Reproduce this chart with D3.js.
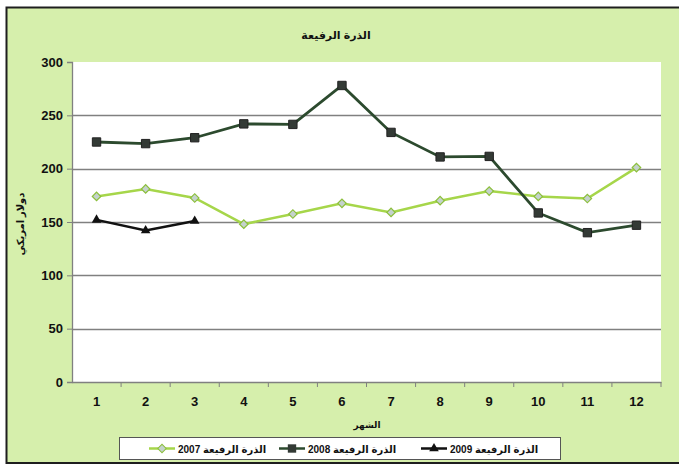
<!DOCTYPE html>
<html>
<head>
<meta charset="utf-8">
<script src="https://cdn.jsdelivr.net/npm/d3@7"></script>
<style>
  body { margin: 0; background: #fff; }
  text { font-family: "Liberation Sans", Arial, "DejaVu Sans", sans-serif; }
</style>
</head>
<body>
<div id="chart"></div>
<script>
// months on the x axis
var months = [1, 2, 3, 4, 5, 6, 7, 8, 9, 10, 11, 12];
// prices, US dollar
var sorghum_2007 = [174, 181, 172.5, 148, 157.5, 167.5, 159, 170, 179, 174, 172, 201];
var sorghum_2008 = [225, 223.5, 229, 242, 241.5, 278, 234, 211, 211.5, 158.5, 140, 147];
var sorghum_2009 = [152, 142, 151];
var y_ticks = [0, 50, 100, 150, 200, 250, 300];

var chart_title = "الذرة الرفيعة";
var y_title = "دولار امريكي";
var x_title = "الشهر";
var legend_names = ["الذرة الرفيعة 2007", "الذرة الرفيعة 2008", "الذرة الرفيعة 2009"];

var canvas_width = 679;
var canvas_height = 466;
var plot = {left: 72, right: 661, top: 62, bottom: 382};

var svg = d3.select("#chart")
    .append("svg")
    .attr("width", canvas_width)
    .attr("height", canvas_height);

// outer chart area
svg.append("rect")
  .attr("x", 6.5)
  .attr("y", 7.5)
  .attr("width", 700)
  .attr("height", 455.5)
  .attr("fill", "#d6efac")
  .attr("stroke", "#1e1e1e")
  .attr("stroke-width", 2);

// plot area
svg.append("rect")
  .attr("x", plot.left)
  .attr("y", plot.top)
  .attr("width", plot.right - plot.left)
  .attr("height", plot.bottom - plot.top)
  .attr("fill", "#ffffff");

var x = d3.scaleBand()
    .domain(months)
    .range([plot.left, plot.right]);

var y = d3.scaleLinear()
    .domain([0, 300])
    .range([plot.bottom, plot.top]);

function cx(d, i) { return x(months[i]) + x.bandwidth() / 2; }

// gridlines
svg.append("g")
  .selectAll("line")
  .data(y_ticks.filter(function(t) { return t > 0 && t < 300; }))
  .enter().append("line")
  .attr("x1", plot.left)
  .attr("x2", plot.right)
  .attr("y1", function(d) { return Math.round(y(d)) + 0.5; })
  .attr("y2", function(d) { return Math.round(y(d)) + 0.5; })
  .attr("stroke", "#808080")
  .attr("stroke-width", 1.3);

// y axis
var y_axis = svg.append("g")
  .attr("transform", "translate(" + plot.left + ",0)")
  .call(d3.axisLeft(y).tickValues(y_ticks).tickSize(5).tickPadding(4));
y_axis.select(".domain").attr("stroke", "#808080").attr("stroke-width", 1.3);
y_axis.selectAll(".tick line").attr("stroke", "#808080");
y_axis.selectAll("text")
  .attr("fill", "#111")
  .style("font-weight", "bold")
  .style("font-size", "13px")
  .style("font-family", "'Liberation Sans', Arial, sans-serif");

// x axis, ticks between categories
var x_axis = svg.append("g")
  .attr("transform", "translate(0," + plot.bottom + ")")
  .call(d3.axisBottom(x).tickSize(0).tickPadding(15));
x_axis.select(".domain").attr("stroke", "#808080").attr("stroke-width", 1.3);
x_axis.selectAll("text")
  .attr("fill", "#111")
  .style("font-weight", "bold")
  .style("font-size", "13px")
  .style("font-family", "'Liberation Sans', Arial, sans-serif");
x_axis.selectAll(".sep")
  .data(months)
  .enter().append("line")
  .attr("class", "sep")
  .attr("x1", function(d) { return x(d) + x.bandwidth(); })
  .attr("x2", function(d) { return x(d) + x.bandwidth(); })
  .attr("y1", 0)
  .attr("y2", 5)
  .attr("stroke", "#808080");

var line = d3.line()
    .x(cx)
    .y(function(d) { return y(d); });

// 2007
svg.append("path")
  .datum(sorghum_2007)
  .attr("d", line)
  .attr("fill", "none")
  .attr("stroke", "#a6d64a")
  .attr("stroke-width", 2.5);

// 2008
svg.append("path")
  .datum(sorghum_2008)
  .attr("d", line)
  .attr("fill", "none")
  .attr("stroke", "#2c4a2e")
  .attr("stroke-width", 2.8);

// 2009
svg.append("path")
  .datum(sorghum_2009)
  .attr("d", line)
  .attr("fill", "none")
  .attr("stroke", "#111")
  .attr("stroke-width", 2.5);

// diamond = square turned 45 degrees
var diamond = d3.symbol().type(d3.symbolSquare).size(36);
var square = d3.symbol().type(d3.symbolSquare).size(70);
var triangle = d3.symbol().type(d3.symbolTriangle).size(40);

svg.append("g").selectAll("path")
  .data(sorghum_2007)
  .enter().append("path")
  .attr("d", diamond)
  .attr("transform", function(d, i) { return "translate(" + cx(d, i) + "," + y(d) + ") rotate(45)"; })
  .attr("fill", "#c4d2cc")
  .attr("stroke", "#8cbf3c")
  .attr("stroke-width", 1.2);

svg.append("g").selectAll("path")
  .data(sorghum_2008)
  .enter().append("path")
  .attr("d", square)
  .attr("transform", function(d, i) { return "translate(" + cx(d, i) + "," + y(d) + ")"; })
  .attr("fill", "#333a35")
  .attr("stroke", "#222");

svg.append("g").selectAll("path")
  .data(sorghum_2009)
  .enter().append("path")
  .attr("d", triangle)
  .attr("transform", function(d, i) { return "translate(" + cx(d, i) + "," + y(d) + ")"; })
  .attr("fill", "#111");

// titles
svg.append("text")
  .attr("x", 336)
  .attr("y", 39)
  .attr("text-anchor", "middle")
  .style("font-weight", "bold")
  .style("font-size", "11px")
  .attr("fill", "#111")
  .text(chart_title);

svg.append("text")
  .attr("transform", "translate(24,224) rotate(-90)")
  .attr("text-anchor", "middle")
  .style("font-weight", "bold")
  .style("font-size", "10px")
  .attr("fill", "#111")
  .text(y_title);

svg.append("text")
  .attr("x", 367)
  .attr("y", 428)
  .attr("text-anchor", "middle")
  .style("font-weight", "bold")
  .style("font-size", "9px")
  .attr("fill", "#111")
  .text(x_title);

// legend
svg.append("rect")
  .attr("x", 119.5)
  .attr("y", 437.5)
  .attr("width", 441)
  .attr("height", 22)
  .attr("fill", "#fff")
  .attr("stroke", "#555");

var legend_x = [162, 292, 434];
var legend_stroke = ["#a6d64a", "#2c4a2e", "#111"];
var legend_symbols = [diamond, square, triangle];
var legend_fill = ["#c4d2cc", "#333a35", "#111"];

legend_names.forEach(function(name, i) {
  var g = svg.append("g").attr("transform", "translate(" + legend_x[i] + ",448.5)");
  g.append("line")
    .attr("x1", -13).attr("x2", 13)
    .attr("stroke", legend_stroke[i])
    .attr("stroke-width", 2.5);
  g.append("path")
    .attr("d", legend_symbols[i])
    .attr("transform", i == 0 ? "rotate(45)" : null)
    .attr("fill", legend_fill[i])
    .attr("stroke", i == 0 ? "#8cbf3c" : "none");
  g.append("text")
    .attr("x", 16)
    .attr("y", 4)
    .style("font-weight", "bold")
    .style("font-size", "10px")
    .attr("fill", "#111")
    .text(name);
});
</script>
</body>
</html>
